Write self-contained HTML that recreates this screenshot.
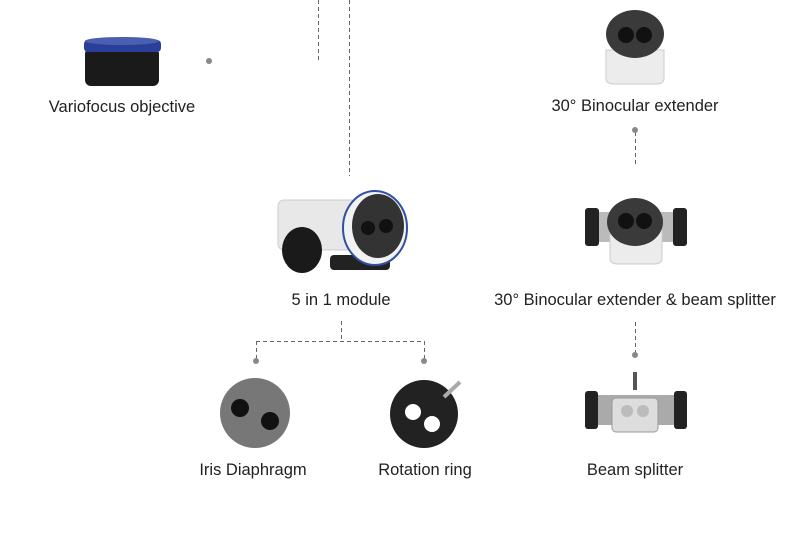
<!DOCTYPE html>
<html><head><style>
body{margin:0;background:#fff;}
svg{display:block;}
text{font-family:"Liberation Sans",sans-serif;font-size:16.5px;fill:#222;text-anchor:middle;}
</style></head><body>
<svg width="800" height="533" viewBox="0 0 800 533">
<g stroke="#666" stroke-width="1" stroke-dasharray="4,3" fill="none">
<line x1="318.5" y1="0" x2="318.5" y2="61"/>
<line x1="349.5" y1="0" x2="349.5" y2="176"/>
<line x1="635.5" y1="132" x2="635.5" y2="165"/>
<line x1="635.5" y1="322" x2="635.5" y2="354"/>
<line x1="341.5" y1="321" x2="341.5" y2="341"/>
<line x1="256" y1="341.5" x2="424" y2="341.5"/>
<line x1="256.5" y1="341" x2="256.5" y2="360"/>
<line x1="424.5" y1="341" x2="424.5" y2="360"/>
</g>
<g fill="#888">
<circle cx="209" cy="61" r="3"/><circle cx="635" cy="130" r="3"/><circle cx="635" cy="355" r="3"/>
<circle cx="256" cy="361" r="3"/><circle cx="424" cy="361" r="3"/>
</g>
<rect x="85" y="48" width="74" height="38" rx="6" fill="#1a1a1a"/>
<rect x="84" y="40" width="77" height="12" rx="4" fill="#2a3f9a"/>
<ellipse cx="122" cy="41" rx="37" ry="4" fill="#4a5fb0"/>
<path d="M606 50 L664 50 L664 78 Q664 84 656 84 L614 84 Q606 84 606 78Z" fill="#ececec" stroke="#ccc"/>
<ellipse cx="635" cy="34" rx="29" ry="24" fill="#3a3a3a"/>
<circle cx="626" cy="35" r="8" fill="#111"/><circle cx="644" cy="35" r="8" fill="#111"/>
<rect x="596" y="212" width="80" height="30" fill="#bbb"/>
<rect x="585" y="208" width="14" height="38" rx="3" fill="#222"/>
<rect x="673" y="208" width="14" height="38" rx="3" fill="#222"/>
<path d="M610 230 L662 230 L662 258 Q662 264 654 264 L618 264 Q610 264 610 258Z" fill="#ececec" stroke="#ccc"/>
<ellipse cx="635" cy="222" rx="28" ry="24" fill="#3a3a3a"/>
<circle cx="626" cy="221" r="8" fill="#111"/><circle cx="644" cy="221" r="8" fill="#111"/>
<rect x="278" y="200" width="85" height="50" rx="6" fill="#e8e8e8" stroke="#ccc"/>
<rect x="330" y="255" width="60" height="15" rx="4" fill="#222"/>
<ellipse cx="302" cy="250" rx="20" ry="23" fill="#1a1a1a"/>
<ellipse cx="375" cy="228" rx="32" ry="37" fill="#f2f2f2" stroke="#3050a0" stroke-width="2"/>
<ellipse cx="378" cy="226" rx="26" ry="32" fill="#333"/>
<circle cx="368" cy="228" r="7" fill="#111"/><circle cx="386" cy="226" r="7" fill="#111"/>
<circle cx="255" cy="413" r="35" fill="#777"/>
<circle cx="240" cy="408" r="9" fill="#111"/><circle cx="270" cy="421" r="9" fill="#111"/>
<circle cx="424" cy="414" r="34" fill="#222"/>
<circle cx="413" cy="412" r="8" fill="#fff"/><circle cx="432" cy="424" r="8" fill="#fff"/>
<line x1="444" y1="397" x2="460" y2="382" stroke="#aaa" stroke-width="4"/>
<rect x="596" y="395" width="80" height="30" fill="#aaa"/>
<rect x="585" y="391" width="13" height="38" rx="3" fill="#222"/>
<rect x="674" y="391" width="13" height="38" rx="3" fill="#222"/>
<rect x="612" y="398" width="46" height="34" rx="4" fill="#ddd" stroke="#999"/>
<circle cx="627" cy="411" r="6" fill="#bbb"/><circle cx="643" cy="411" r="6" fill="#bbb"/>
<rect x="633" y="372" width="4" height="18" fill="#555"/>
<text x="122" y="112">Variofocus objective</text>
<text x="635" y="111">30° Binocular extender</text>
<text x="341" y="305">5 in 1 module</text>
<text x="635" y="305">30° Binocular extender &amp; beam splitter</text>
<text x="253" y="475">Iris Diaphragm</text>
<text x="425" y="475">Rotation ring</text>
<text x="635" y="475">Beam splitter</text>
</svg>
</body></html>
